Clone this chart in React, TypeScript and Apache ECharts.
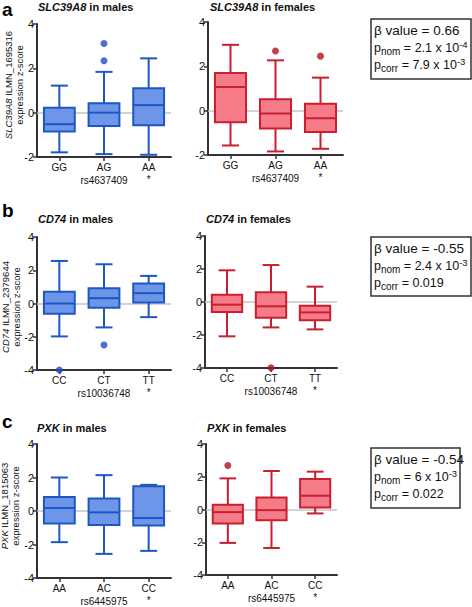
import React, { useEffect, useRef } from "react";
import * as echarts from "echarts";

const FONT = "'Liberation Sans', Arial, Helvetica, sans-serif";

// SNPs and genotype categories
const snpA = "rs4637409";
const genotypesA = ["GG", "AG", "AA"];
const snpB = "rs10036748";
const genotypesB = ["CC", "CT", "TT"];
const snpC = "rs6445975";
const genotypesC = ["AA", "AC", "CC"];
const starredIndex = 2;

// box stats: [low whisker, Q1, median, Q3, high whisker]
const slcMales = [
  [-1.79, -0.85, -0.52, 0.22, 1.22],
  [-1.87, -0.6, 0.0, 0.43, 1.84],
  [-1.9, -0.57, 0.34, 1.1, 2.45],
];
const slcMalesOut = [[1, 3.12], [1, 2.34]];
const slcFemales = [
  [-1.57, -0.52, 1.07, 1.7, 2.97],
  [-1.84, -0.81, -0.13, 0.52, 2.27],
  [-1.72, -0.96, -0.34, 0.31, 1.49],
];
const slcFemalesOut = [[1, 2.69], [2, 2.46]];

const cd74Males = [
  [-1.98, -0.62, 0.0, 0.7, 2.56],
  [-1.44, -0.26, 0.32, 0.92, 2.36],
  [-0.82, 0.06, 0.62, 1.2, 1.66],
];
const cd74MalesOut = [[0, -4.0], [1, -2.5]];
const cd74Females = [
  [-2.08, -0.61, -0.16, 0.44, 1.92],
  [-1.54, -0.95, -0.26, 0.59, 2.24],
  [-1.66, -1.11, -0.63, -0.22, 0.93],
];
const cd74FemalesOut = [[1, -3.98]];

const pxkMales = [
  [-1.86, -0.74, 0.18, 0.84, 2.0],
  [-2.56, -0.84, -0.08, 0.74, 2.14],
  [-2.38, -0.86, -0.42, 1.48, 1.56],
];
const pxkMalesOut: number[][] = [];
const pxkFemales = [
  [-2.04, -0.86, -0.16, 0.29, 1.9],
  [-2.35, -0.65, -0.04, 0.73, 2.35],
  [-0.24, 0.12, 0.84, 1.86, 2.31],
];
const pxkFemalesOut = [[0, 2.69]];

// statistics text
const statsA = ["0.66", "2.1 x 10", "-4", "7.9 x 10", "-3"];
const statsB = ["-0.55", "2.4 x 10", "-3", "0.019", ""];
const statsC = ["-0.54", "6 x 10", "-3", "0.022", ""];

const MALE = { stroke: "#1E56C6", fill: "#6E96E8", dot: "#1C4DBE" };
const FEMALE = { stroke: "#C91F2E", fill: "#F47B87", dot: "#B3101C" };

const panels = [
  { grid: { left: 37, top: 24, width: 134, height: 133 }, min: -2, max: 4, cats: genotypesA, snp: snpA, box: slcMales, out: slcMalesOut, col: MALE },
  { grid: { left: 208, top: 22, width: 135, height: 133 }, min: -2, max: 4, cats: genotypesA, snp: snpA, box: slcFemales, out: slcFemalesOut, col: FEMALE },
  { grid: { left: 37, top: 237, width: 134, height: 133 }, min: -4, max: 4, cats: genotypesB, snp: snpB, box: cd74Males, out: cd74MalesOut, col: MALE },
  { grid: { left: 205, top: 236, width: 132, height: 132 }, min: -4, max: 4, cats: genotypesB, snp: snpB, box: cd74Females, out: cd74FemalesOut, col: FEMALE },
  { grid: { left: 37, top: 444, width: 134, height: 135 }, min: -4, max: 4, cats: genotypesC, snp: snpC, box: pxkMales, out: pxkMalesOut, col: MALE },
  { grid: { left: 206, top: 444, width: 131, height: 131 }, min: -4, max: 4, cats: genotypesC, snp: snpC, box: pxkFemales, out: pxkFemalesOut, col: FEMALE },
];

const titles = [
  { gene: "SLC39A8", sex: "males", left: 38, top: 1 },
  { gene: "SLC39A8", sex: "females", left: 210, top: 1 },
  { gene: "CD74", sex: "males", left: 38, top: 213 },
  { gene: "CD74", sex: "females", left: 206, top: 213 },
  { gene: "PXK", sex: "males", left: 37, top: 422 },
  { gene: "PXK", sex: "females", left: 207, top: 422 },
];

const yNames = [
  { gene: "SLC39A8", probe: "ILMN_1695316", x: 14, y: 85 },
  { gene: "CD74", probe: "ILMN_2379644", x: 11, y: 307 },
  { gene: "PXK", probe: "ILMN_1815063", x: 10, y: 506 },
];

const statBoxes = [
  { s: statsA, x: 371, y: 19, w: 100, h: 60 },
  { s: statsB, x: 371, y: 237, w: 100, h: 59 },
  { s: statsC, x: 371, y: 448, w: 89, h: 60 },
];

function makeRender(col: { stroke: string; fill: string }) {
  return (params: any, api: any) => {
    const c = api.value(0);
    const pLow = api.coord([c, api.value(1)]);
    const pQ1 = api.coord([c, api.value(2)]);
    const pMed = api.coord([c, api.value(3)]);
    const pQ3 = api.coord([c, api.value(4)]);
    const pHigh = api.coord([c, api.value(5)]);
    const band = api.size([1, 0])[0];
    const x = pMed[0];
    const bw = band * 0.69;
    const cw = band * 0.38;
    const ls = { stroke: col.stroke, lineWidth: 2, fill: null };
    return {
      type: "group",
      children: [
        { type: "line", shape: { x1: x, y1: pHigh[1], x2: x, y2: pQ3[1] }, style: ls },
        { type: "line", shape: { x1: x, y1: pQ1[1], x2: x, y2: pLow[1] }, style: ls },
        { type: "line", shape: { x1: x - cw / 2, y1: pHigh[1], x2: x + cw / 2, y2: pHigh[1] }, style: ls },
        { type: "line", shape: { x1: x - cw / 2, y1: pLow[1], x2: x + cw / 2, y2: pLow[1] }, style: ls },
        {
          type: "rect",
          shape: { x: x - bw / 2, y: pQ3[1], width: bw, height: pQ1[1] - pQ3[1] },
          style: { fill: col.fill, stroke: col.stroke, lineWidth: 2 },
        },
        { type: "line", shape: { x1: x - bw / 2, y1: pMed[1], x2: x + bw / 2, y2: pMed[1] }, style: ls },
      ],
    };
  };
}

export default function App() {
  const ref = useRef<HTMLDivElement>(null);
  useEffect(() => {
    if (!ref.current) return;
    const chart = echarts.init(ref.current, undefined, { renderer: "svg" });
    const axisColor = "#333333";
    const grid = panels.map((p) => ({ ...p.grid }));
    const xAxis = panels.map((p, i) => ({
      type: "category",
      gridIndex: i,
      data: p.cats,
      boundaryGap: true,
      axisLine: { show: true, onZero: false, lineStyle: { color: axisColor, width: 2 } },
      axisTick: { show: true, alignWithLabel: true, length: 4, lineStyle: { color: axisColor, width: 1.5 } },
      axisLabel: {
        fontSize: 10,
        fontFamily: FONT,
        color: "#111",
        margin: 4,
        lineHeight: 12.5,
        formatter: (v: string, idx: number) => (idx === starredIndex ? v + "\n*" : v),
      },
      name: p.snp,
      nameLocation: "middle",
      nameGap: 18,
      nameMoveOverlap: false,
      nameTextStyle: { fontSize: 10, fontFamily: FONT, color: "#111" },
    }));
    const yAxis = panels.map((p, i) => ({
      type: "value",
      gridIndex: i,
      min: p.min,
      max: p.max,
      interval: 2,
      axisLine: { show: true, onZero: false, lineStyle: { color: axisColor, width: 2 } },
      axisTick: { show: true, length: 4, lineStyle: { color: axisColor, width: 1.5 } },
      splitLine: { show: false },
      axisLabel: { fontSize: 11, fontFamily: FONT, color: "#111", margin: 3 },
    }));
    const series: any[] = [];
    panels.forEach((p, i) => {
      series.push({
        type: "custom",
        xAxisIndex: i,
        yAxisIndex: i,
        z: 3,
        renderItem: makeRender(p.col),
        encode: { x: 0, y: [1, 2, 3, 4, 5] },
        data: p.box.map((b, k) => [k, ...b]),
        markLine: {
          silent: true,
          z: 1,
          symbol: ["none", "none"],
          label: { show: false },
          lineStyle: { color: "#c4c4c4", width: 1.5, type: "solid" },
          data: [{ yAxis: 0 }],
        },
      });
      series.push({
        type: "scatter",
        xAxisIndex: i,
        yAxisIndex: i,
        z: 4,
        symbolSize: 7,
        itemStyle: { color: p.col.dot },
        data: p.out,
        clip: false,
      });
    });
    const title: any[] = titles.map((t) => ({
      text: "{i|" + t.gene + "} in " + t.sex,
      left: t.left,
      top: t.top,
      padding: 0,
      textStyle: {
        fontSize: 11,
        fontWeight: "bold",
        fontFamily: FONT,
        color: "#111",
        rich: { i: { fontSize: 11, fontWeight: "bold", fontStyle: "italic", fontFamily: FONT, color: "#111" } },
      },
    }));
    const graphic: any[] = [];
    [["a", 2, 0], ["b", 2, 201], ["c", 2, 412]].forEach(([l, x, y]) => {
      graphic.push({
        type: "text",
        x,
        y,
        style: { text: l, fontSize: 19, fontWeight: "bold", fontFamily: FONT, fill: "#000" },
      });
    });
    yNames.forEach((n) => {
      graphic.push({
        type: "text",
        x: n.x,
        y: n.y,
        rotation: Math.PI / 2,
        style: {
          text: "{i|" + n.gene + "}{r| " + n.probe + "}\n{r|expression z-score}",
          align: "center",
          verticalAlign: "middle",
          fill: "#111",
          fontSize: 9.5,
          fontFamily: FONT,
          rich: {
            i: { fontSize: 9.5, fontStyle: "italic", fontFamily: FONT, fill: "#111", lineHeight: 10.5 },
            r: { fontSize: 9.5, fontFamily: FONT, fill: "#111", lineHeight: 10.5 },
          },
        },
      });
    });
    statBoxes.forEach((b) => {
      graphic.push({
        type: "rect",
        shape: { x: b.x, y: b.y, width: b.w, height: b.h },
        style: { fill: "#fff", stroke: "#333", lineWidth: 1.5 },
      });
      const s = b.s;
      const corr = s[4] ? "{n| = " + s[3] + "}{sup|" + s[4] + "}" : "{n| = " + s[3] + "}";
      graphic.push({
        type: "text",
        x: b.x + 3,
        y: b.y + 3,
        style: {
          text:
            "{b|β value = " + s[0] + "}\n" +
            "{n|p}{sub|nom}{n| = " + s[1] + "}{sup|" + s[2] + "}\n" +
            "{n|p}{sub|corr}" + corr,
          fill: "#111",
          fontSize: 12.5,
          fontFamily: FONT,
          verticalAlign: "top",
          rich: {
            b: { fontSize: 13.5, fontFamily: FONT, fill: "#111", lineHeight: 17 },
            n: { fontSize: 12.5, fontFamily: FONT, fill: "#111", lineHeight: 17 },
            sub: { fontSize: 10, fontFamily: FONT, fill: "#111", lineHeight: 10, verticalAlign: "bottom" },
            sup: { fontSize: 9.5, fontFamily: FONT, fill: "#111", lineHeight: 10, verticalAlign: "top" },
          },
        },
      });
    });
    chart.setOption({
      animation: false,
      backgroundColor: "#fff",
      title,
      grid,
      xAxis,
      yAxis,
      series,
      graphic,
    });
    return () => chart.dispose();
  }, []);
  return <div ref={ref} style={{ position: "absolute", left: 0, top: 0, width: 472, height: 607 }} />;
}
